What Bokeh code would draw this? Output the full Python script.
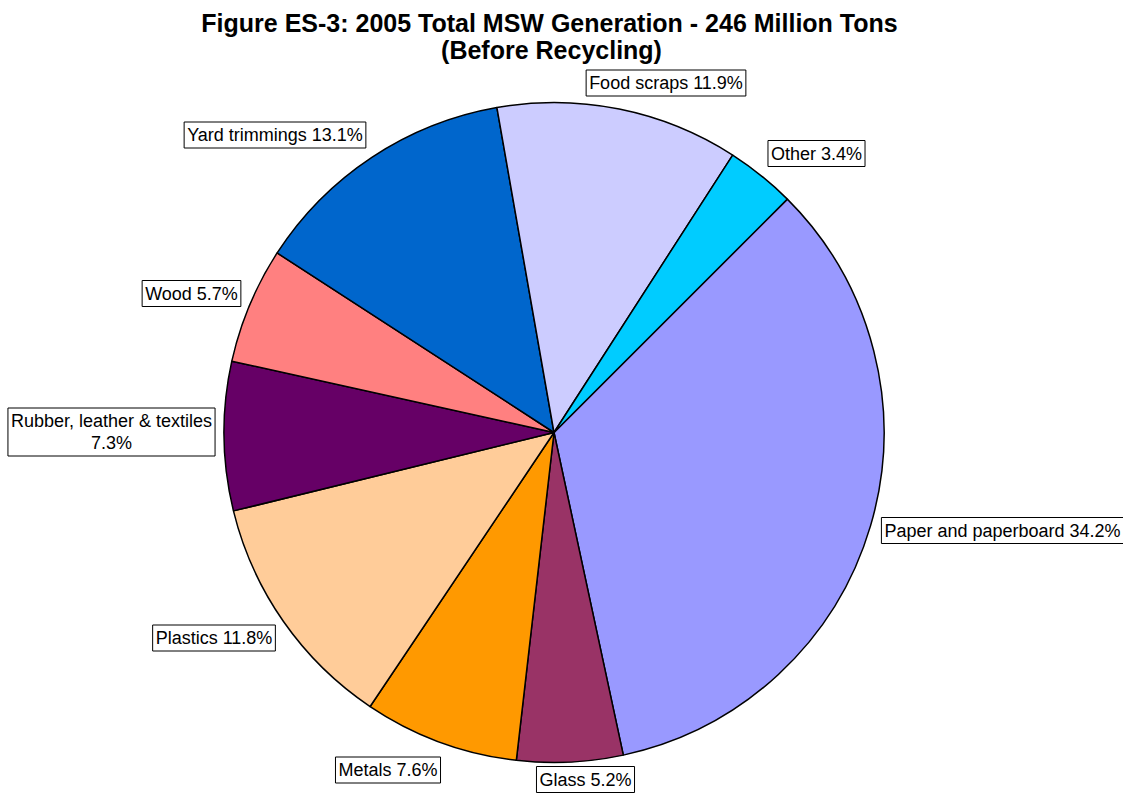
import numpy as np
from bokeh.plotting import figure
from bokeh.models import Range1d, Label
from bokeh.embed import file_html
from bokeh.resources import INLINE

# ---- data ----
categories = ["Paper and paperboard", "Glass", "Metals", "Plastics",
              "Rubber, leather & textiles", "Wood", "Yard trimmings",
              "Food scraps", "Other"]
percents = [34.2, 5.2, 7.6, 11.8, 7.3, 5.7, 13.1, 11.9, 3.4]
colors = ["#9999FF", "#993366", "#FF9900", "#FFCC99", "#660066",
          "#FF8080", "#0066CC", "#CCCCFF", "#00CCFF"]
label_texts = ["Paper and paperboard 34.2%", "Glass 5.2%", "Metals 7.6%",
               "Plastics 11.8%", "Rubber, leather & textiles\n7.3%",
               "Wood 5.7%", "Yard trimmings 13.1%", "Food scraps 11.9%",
               "Other 3.4%"]

# ---- layout (screen pixel positions of label box centres) ----
label_pos = [(1002, 530), (585, 779), (387.5, 769.5), (213.5, 637.5),
             (111, 431.5), (191, 293), (274.5, 134.5), (665.5, 82.5),
             (816, 153)]

W, H = 1123, 793
p = figure(width=W, height=H, output_backend="svg", toolbar_location=None,
           x_range=Range1d(0, W), y_range=Range1d(0, H),
           min_border=0, outline_line_color=None)
p.axis.visible = False
p.grid.visible = False
p.background_fill_color = "white"

def Y(sy):
    return H - sy

cx, cy, r = 553.5, Y(432), 330
vals = np.array(percents)
total = vals.sum()
spans = vals / total * 2 * np.pi
starts = np.deg2rad(45) - np.concatenate([[0], np.cumsum(spans)[:-1]])
ends = starts - spans

p.wedge(x=cx, y=cy, radius=r, start_angle=ends, end_angle=starts,
        direction="anticlock", fill_color=colors, line_color="black",
        line_width=1.5)

for txt, (sx, sy) in zip(label_texts, label_pos):
    lab = Label(x=sx, y=Y(sy), text=txt, text_align="center",
                text_baseline="middle", text_font="Liberation Sans",
                text_font_size="18px", text_color="black",
                text_line_height=1.1,
                background_fill_color="white", border_line_color="black",
                border_line_width=1, padding=3)
    p.add_layout(lab)

p.add_layout(Label(x=549, y=Y(22), text="Figure ES-3: 2005 Total MSW Generation - 246 Million Tons",
                   text_align="center", text_baseline="middle",
                   text_font="Liberation Sans", text_font_style="bold",
                   text_font_size="25px", text_color="black"))
p.add_layout(Label(x=551, y=Y(49), text="(Before Recycling)",
                   text_align="center", text_baseline="middle",
                   text_font="Liberation Sans", text_font_style="bold",
                   text_font_size="25px", text_color="black"))

open("out.html", "w").write(file_html(p, INLINE))
